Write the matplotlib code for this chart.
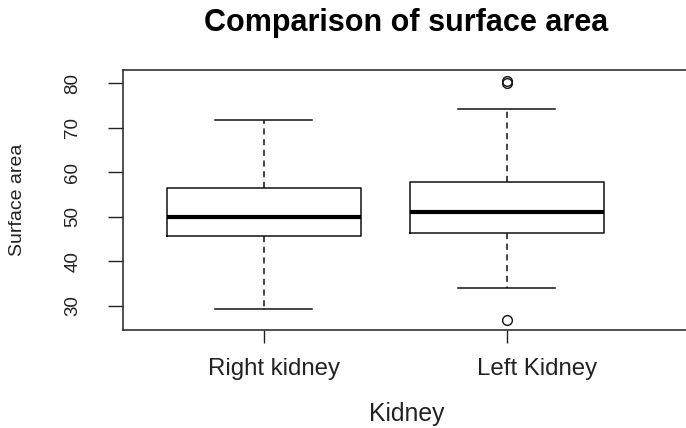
import matplotlib
matplotlib.use("Agg")
import matplotlib.pyplot as plt
from matplotlib.transforms import ScaledTranslation

plt.rcParams["font.family"] = ["Liberation Sans", "DejaVu Sans"]

# ---- data ------------------------------------------------------------------
groups   = ["Right kidney", "Left Kidney"]
whis_lo  = [29.3, 34.1]
q1       = [45.7, 46.5]
medians  = [49.9, 51.2]
q3       = [56.6, 57.9]
whis_hi  = [71.8, 74.3]
fliers   = [[], [80.1, 80.5, 26.8]]
y_ticks  = [30, 40, 50, 60, 70, 80]

stats = [dict(label=g, whislo=lo, q1=a, med=m, q3=b, whishi=hi, fliers=f)
         for g, lo, a, m, b, hi, f in zip(groups, whis_lo, q1, medians, q3, whis_hi, fliers)]

W, H = 686, 428
fig = plt.figure(figsize=(W / 100, H / 100), dpi=100)
# plot region runs off the right edge of the picture (cropped R output)
ax = fig.add_axes([123 / W, 1 - 330 / H, 566 / W, 260 / H])

ax.bxp(stats, positions=[1, 2], widths=0.8,
       boxprops=dict(color="#111", linewidth=1.1),
       medianprops=dict(color="black", linewidth=3.0),
       whiskerprops=dict(color="#111", linewidth=1.1, linestyle=(0, (4, 3))),
       capprops=dict(color="#111", linewidth=1.1),
       capwidths=0.4,
       flierprops=dict(marker="o", markerfacecolor="none", markeredgecolor="#111",
                       markersize=7, markeredgewidth=1.0))

ax.set_xlim(0.42, 2.75)
ax.set_ylim(24.6, 83.0)
ax.set_yticks(y_ticks)
ax.set_yticklabels([str(t) for t in y_ticks], rotation=90, va="center", fontsize=13.5)
ax.set_xticks([1, 2])
ax.set_xticklabels(groups, fontsize=17.3)
ax.tick_params(axis="y", length=11, width=1.0, pad=19, colors="#222")
ax.tick_params(axis="x", length=9, width=1.0, pad=11, colors="#222")
# labels in the reference sit a bit right of their ticks
for lab, dx in zip(ax.get_xticklabels(), [10, 30]):
    lab.set_transform(lab.get_transform() + ScaledTranslation(dx / 100, 0, fig.dpi_scale_trans))
for s in ax.spines.values():
    s.set_color("#222")
    s.set_linewidth(1.1)

fig.text(406 / W, 1 - 23 / H, "Comparison of surface area", ha="center", va="center",
         fontsize=22, fontweight="bold")
fig.text(407 / W, 1 - 414 / H, "Kidney", ha="center", va="center", fontsize=17.8, color="#222")
fig.text(18 / W, 1 - 200 / H, "Surface area", ha="center", va="center", rotation=90,
         fontsize=14, color="#222")

fig.savefig("out.png", dpi=100)
